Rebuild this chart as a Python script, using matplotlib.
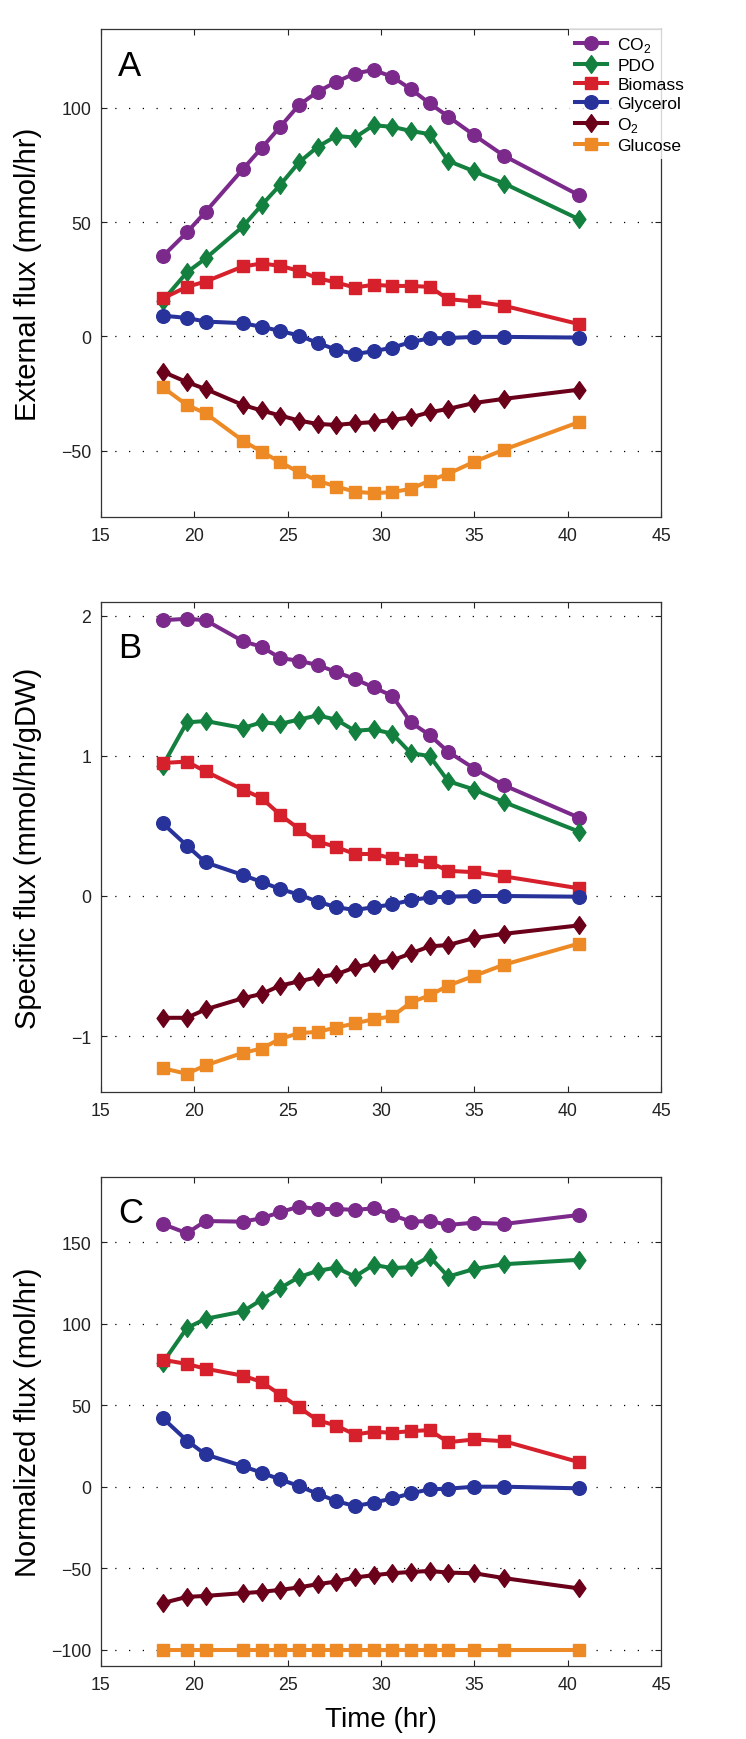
import numpy as np
import matplotlib
matplotlib.use('Agg')
import matplotlib.pyplot as plt
from matplotlib.path import Path

plt.rcParams['font.family'] = ['Liberation Sans', 'DejaVu Sans']
plt.rcParams['mathtext.fontset'] = 'custom'
plt.rcParams['mathtext.rm'] = 'Liberation Sans'

# waktu sampel (jam)
time = [18.3, 19.6, 20.6, 22.6, 23.6, 24.6, 25.6, 26.6, 27.6, 28.6,
        29.6, 30.6, 31.6, 32.6, 33.6, 35.0, 36.6, 40.6]

labels = ['CO$_2$', 'PDO', 'Biomass', 'Glycerol', 'O$_2$', 'Glucose']

# panel A - external flux (mmol/hr)
co2_ext = [35.0, 45.5, 54.5, 73.2, 82.4, 91.7, 101.2, 107.0, 111.4, 115.0,
           116.6, 113.6, 108.2, 102.0, 96.2, 88.0, 79.0, 61.8]
pdo_ext = [15.6, 28.0, 34.1, 48.1, 57.4, 66.3, 76.1, 82.9, 87.7, 87.0,
           92.4, 91.7, 89.9, 88.5, 76.8, 72.2, 66.9, 51.3]
bio_ext = [16.6, 21.7, 24.0, 30.6, 31.9, 30.9, 28.7, 25.5, 23.6, 21.4,
           22.6, 22.1, 22.1, 21.7, 16.3, 15.3, 13.4, 5.4]
gly_ext = [9.1, 8.1, 6.5, 5.8, 4.2, 2.4, 0.4, -2.8, -5.8, -7.7,
           -6.5, -4.9, -2.5, -0.8, -0.7, -0.2, -0.2, -0.5]
o2_ext = [-15.4, -20.0, -23.0, -30.0, -32.4, -34.6, -36.8, -38.3, -38.7, -38.0,
          -37.5, -36.5, -35.4, -33.2, -31.7, -29.1, -27.3, -23.3]
glc_ext = [-22.2, -30.0, -33.6, -45.6, -50.4, -55.0, -59.4, -63.1, -65.7, -67.9,
           -68.6, -68.1, -66.7, -63.1, -60.1, -54.8, -49.5, -37.5]

# panel B - specific flux (mmol/hr/gDW)
co2_spec = [1.97, 1.98, 1.97, 1.82, 1.78, 1.70, 1.68, 1.65, 1.60, 1.55,
            1.49, 1.43, 1.24, 1.15, 1.03, 0.91, 0.79, 0.56]
pdo_spec = [0.93, 1.24, 1.25, 1.20, 1.24, 1.23, 1.26, 1.29, 1.26, 1.18,
            1.19, 1.16, 1.02, 1.00, 0.82, 0.76, 0.67, 0.46]
bio_spec = [0.95, 0.96, 0.89, 0.76, 0.70, 0.58, 0.48, 0.39, 0.35, 0.30,
            0.30, 0.27, 0.26, 0.24, 0.18, 0.17, 0.14, 0.055]
gly_spec = [0.52, 0.36, 0.24, 0.15, 0.10, 0.05, 0.01, -0.04, -0.08, -0.10,
            -0.08, -0.06, -0.03, -0.01, -0.005, 0.0, 0.0, -0.005]
o2_spec = [-0.87, -0.87, -0.81, -0.73, -0.70, -0.64, -0.61, -0.58, -0.56, -0.51,
           -0.48, -0.46, -0.41, -0.36, -0.35, -0.30, -0.27, -0.21]
glc_spec = [-1.23, -1.27, -1.21, -1.12, -1.09, -1.02, -0.98, -0.97, -0.94, -0.91,
            -0.88, -0.86, -0.76, -0.71, -0.64, -0.57, -0.49, -0.34]

# panel C - normalized flux (mol/hr)
co2_norm = [161.2, 155.5, 163.0, 162.6, 164.7, 168.4, 171.8, 170.4, 170.4, 169.8,
            170.8, 166.7, 162.6, 163.0, 160.6, 162.0, 161.2, 166.7]
pdo_norm = [75.9, 97.3, 103.0, 107.5, 114.7, 121.8, 128.6, 132.4, 134.4, 128.9,
            136.1, 134.1, 134.7, 141.2, 128.9, 133.6, 136.5, 139.2]
bio_norm = [77.9, 75.3, 72.4, 68.1, 64.3, 56.5, 48.7, 40.8, 37.5, 32.0,
            33.7, 33.1, 34.1, 34.7, 27.3, 29.0, 27.9, 15.1]
gly_norm = [42.2, 28.3, 19.8, 12.6, 8.6, 4.5, 0.4, -4.3, -8.8, -11.9,
            -9.8, -7.2, -4.1, -1.6, -1.2, 0.0, 0.0, -1.0]
o2_norm = [-71.4, -67.6, -67.0, -65.3, -64.5, -63.3, -61.8, -59.8, -58.2, -55.7,
           -54.3, -53.1, -52.3, -51.7, -52.7, -53.1, -56.1, -62.4]
glc_norm = [-100.0, -100.0, -100.0, -100.0, -100.0, -100.0, -100.0, -100.0, -100.0,
            -100.0, -100.0, -100.0, -100.0, -100.0, -100.0, -100.0, -100.0, -100.0]

colors = ['#7b2a8c', '#13803f', '#d6202b', '#27329a', '#6a0019', '#ee8a25']

# diamond agak ramping seperti di MATLAB
diamond = Path([(0, 1), (0.72, 0), (0, -1), (-0.72, 0), (0, 1)],
               [Path.MOVETO, Path.LINETO, Path.LINETO, Path.LINETO, Path.CLOSEPOLY])
markers = ['o', diamond, 's', 'o', diamond, 's']
msizes = [9.8, 12.8, 9.2, 9.8, 12.8, 9.2]

panels = [
    ('A', [co2_ext, pdo_ext, bio_ext, gly_ext, o2_ext, glc_ext],
     'External flux (mmol/hr)', (-79, 134.5), [-50, 0, 50, 100], 0.959),
    ('B', [co2_spec, pdo_spec, bio_spec, gly_spec, o2_spec, glc_spec],
     'Specific flux (mmol/hr/gDW)', (-1.4, 2.1), [-1, 0, 1, 2], 0.941),
    ('C', [co2_norm, pdo_norm, bio_norm, gly_norm, o2_norm, glc_norm],
     'Normalized flux (mol/hr)', (-110, 190), [-100, -50, 0, 50, 100, 150], 0.961),
]

W, H = 746, 1740
fig = plt.figure(figsize=(W / 100, H / 100), dpi=100)

# posisi axes dalam piksel: (atas, bawah)
boxes = [(30, 518), (603, 1093), (1178, 1667)]
left, right = 101, 661

for (letter, series, ylab, ylim, yticks, ly), (top, bot) in zip(panels, boxes):
    ax = fig.add_axes([left / W, 1 - bot / H, (right - left) / W, (bot - top) / H])
    for ys, c, m, ms, lab in zip(series, colors, markers, msizes, labels):
        ax.plot(time, ys, '-', color=c, marker=m, markersize=ms, lw=2.9,
                markeredgecolor=c, markerfacecolor=c, label=lab)
    ax.set_xlim(15, 45)
    ax.set_xticks([15, 20, 25, 30, 35, 40, 45])
    ax.set_ylim(*ylim)
    ax.set_yticks(yticks)
    for yv in yticks:
        ax.axhline(yv, color='black', lw=0.9, ls=(0, (1, 10)), zorder=0)
    ax.tick_params(direction='in', length=4, width=0.8, top=True, right=True,
                   labelsize=12.8, pad=7, colors='#222222')
    for sp in ax.spines.values():
        sp.set_linewidth(0.9)
        sp.set_color('#333333')
    ax.set_ylabel(ylab, fontsize=21)
    ax.yaxis.set_label_coords(-0.105, 0.5)
    ax.text(0.03, ly, letter, transform=ax.transAxes, fontsize=25,
            va='top', ha='left')
    if letter == 'A':
        leg = ax.legend(loc='upper left', bbox_to_anchor=(0.835, 1.0),
                        frameon=True, fontsize=12.5, labelspacing=0.22,
                        handlelength=1.85, handletextpad=0.6, borderpad=0.35,
                        borderaxespad=0, fancybox=False)
        leg.get_frame().set_facecolor('white')
        leg.get_frame().set_edgecolor('none')
        leg.set_zorder(10)
    if letter == 'C':
        ax.set_xlabel('Time (hr)', fontsize=20)
        ax.xaxis.set_label_coords(0.5, -0.082)

fig.savefig('out.png', dpi=100)
